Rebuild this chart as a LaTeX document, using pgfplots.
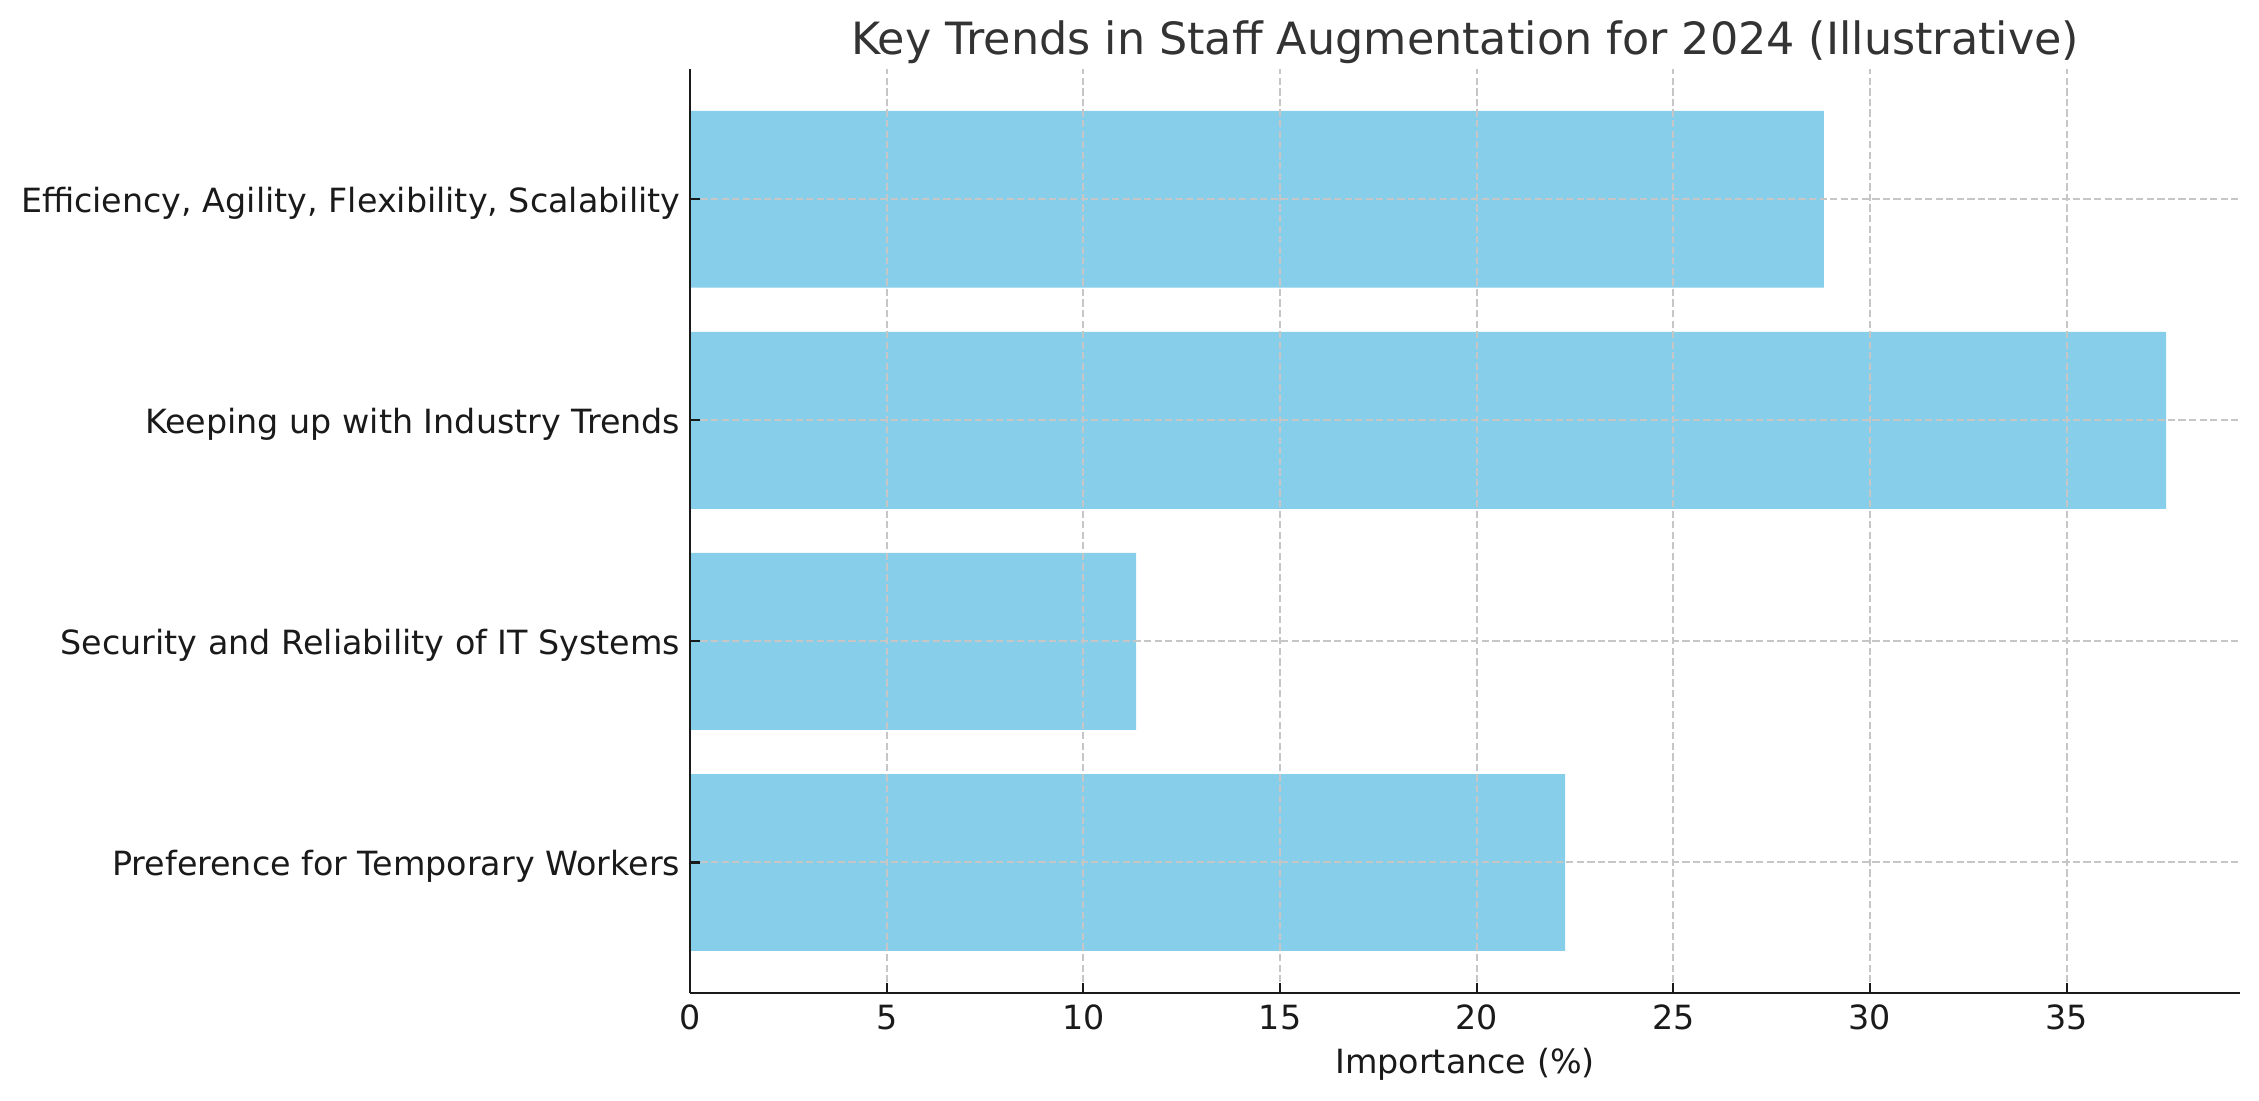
\documentclass[border=0pt]{standalone}
\usepackage{pgfplots}
\pgfplotsset{compat=1.18}
\usepackage{fontspec}
\setmainfont{DejaVu Sans}
\definecolor{skyblue}{HTML}{87CEEB}
\definecolor{titlecol}{HTML}{333333}
\definecolor{tickcol}{HTML}{1A1A1A}
\begin{document}
\begin{tikzpicture}
\begin{axis}[
  at={(0,0)}, anchor=south west,
  scale only axis, width=558pt, height=332.6pt,
  xmin=0, xmax=39.41, ymin=-0.59, ymax=3.59,
  xbar, bar width=0.8,
  axis x line*=bottom, axis y line*=left,
  x axis line style={-, line width=0.9pt, tickcol},
  y axis line style={-, line width=0.9pt, tickcol},
  ytick={0,1,2,3},
  yticklabels={Preference for Temporary Workers, Security and Reliability of IT Systems, Keeping up with Industry Trends, {Efficiency, Agility, Flexibility, Scalability}},
  xtick={0,5,...,35},
  xtick align=inside, ytick align=inside, major tick length=3.6pt,
  tick style={tickcol, line width=0.8pt},
  xmajorgrids, ymajorgrids,
  grid style={gray!45, line width=0.7pt, dash pattern=on 2.6pt off 1.2pt},
  axis on top,
  /pgf/number format/assume math mode=true,
  ticklabel style={font=\fontsize{12}{14}\selectfont, text=tickcol},
  yticklabel style={yshift=-1.3pt},
  xticklabel style={yshift=-0.8pt},
  xlabel={Importance (\%)},
  xlabel style={at={(axis description cs:0.5,0)}, anchor=base, yshift=-29.2pt, font=\fontsize{12}{14}\selectfont, text=tickcol},
  title={Key Trends in Staff Augmentation for 2024 (Illustrative)},
  title style={at={(axis description cs:0.5,1)}, anchor=base, yshift=-1pt, font=\fontsize{16}{19}\selectfont, text=titlecol},
]
\addplot[fill=skyblue, draw=none] coordinates {(22.25,0) (11.34,1) (37.53,2) (28.83,3)};
\end{axis}
\pgfresetboundingbox
\path (-248.4pt,-38.9pt) rectangle (564.8pt,357.4pt);
\end{tikzpicture}
\end{document}
